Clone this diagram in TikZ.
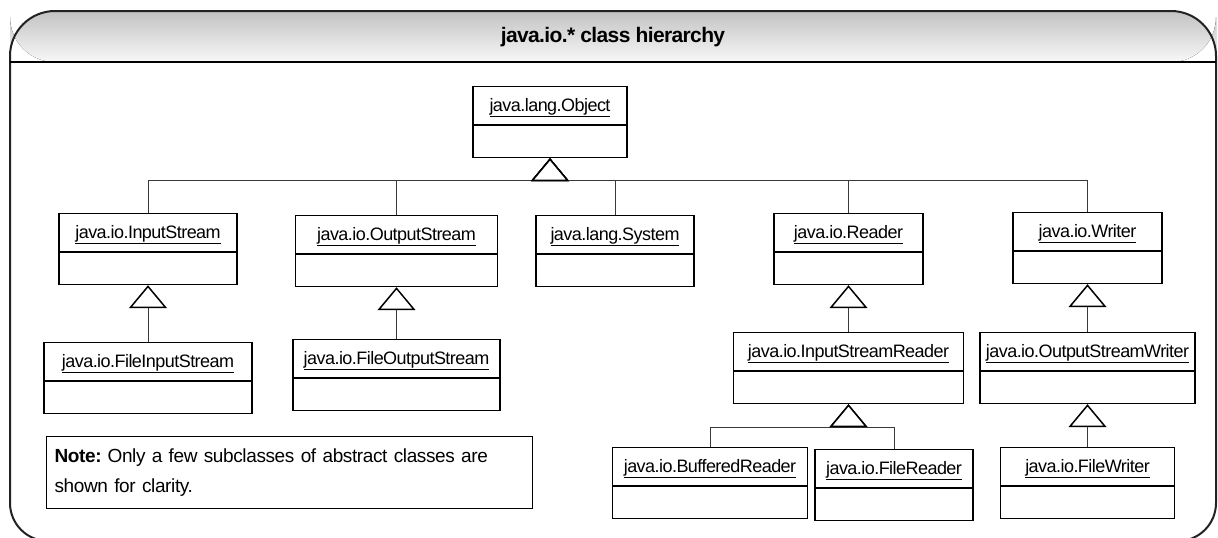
\documentclass[tikz,border=0pt]{standalone}
\usepackage{fontspec}
\setmainfont{Liberation Sans}
\newfontfamily\umlfont[LetterSpace=-3]{Liberation Sans}
\newfontfamily\notefont[LetterSpace=-2]{Liberation Sans}
\usetikzlibrary{
    shapes.multipart,
    arrows.meta,
    positioning
}
\definecolor{frameline}{HTML}{222222}
\definecolor{headtop}{HTML}{C2C2C2}
\definecolor{headbottom}{HTML}{F8F8F8}
\definecolor{linkline}{HTML}{3A3A3A}
\newcommand{\umlname}[1]{\rule[-9pt]{0pt}{29pt}\underline{#1}}
\tikzset{
    % UML class box: name compartment over an empty body
    classbox/.style={
        rectangle split,
        rectangle split parts=2,
        rectangle split empty part height=23pt,
        draw=black,
        line width=1.4pt,
        fill=white,
        minimum width=#1,
        inner xsep=4pt,
        inner ysep=4pt,
        anchor=north,
        font=\umlfont\fontsize{18}{21}\selectfont
    },
    % Generalisation connector with hollow triangle
    inherit/.style={
        -{Triangle[length=23pt, width=38pt, fill=white, color=black, line width=1.5pt]},
        line width=0.9pt,
        color=linkline
    },
    % Outer frame
    frame/.style={
        draw=frameline,
        line width=2pt,
        line join=round
    },
    % Note box
    notebox/.style={
        rectangle,
        draw=black,
        line width=1.2pt,
        anchor=north west,
        text width=470pt,
        minimum height=72pt,
        inner xsep=8pt,
        align=left,
        font=\notefont\fontsize{19}{30}\selectfont
    },
    % Title text
    title text/.style={
        font=\umlfont\bfseries\fontsize{21}{24}\selectfont
    }
}

\begin{document}
\frenchspacing
\begin{tikzpicture}[x=1pt, y=-1pt]
        \useasboundingbox (0,0) rectangle (1218,538);

        % Frame and header band
        \fill[top color=headtop, bottom color=headbottom]
            (10,62) [rounded corners=45] |- (613,11) -| (1216,62) -- cycle;
        \draw[frame] (10,300) [rounded corners=45] |- (613,11) -| (1216,300)
            [rounded corners=38] |- (613,541) -| (10,300);
        \draw[line width=2.2pt] (10,62) -- (1216,62);
        \node[title text] (title) at (613,37) {java.io.* class hierarchy};

        % Root class
        \node[classbox=154pt] (object) at (550,86) {\umlname{java.lang.Object}};

        % First level
        \node[classbox=178pt] (instream) at (148,213) {\umlname{java.io.InputStream}};
        \node[classbox=202pt] (outstream) at (396.5,215) {\umlname{java.io.OutputStream}};
        \node[classbox=158pt] (system) at (615,215) {\umlname{java.lang.System}};
        \node[classbox=149pt] (reader) at (848.5,213) {\umlname{java.io.Reader}};
        \node[classbox=149pt] (writer) at (1087.5,212) {\umlname{java.io.Writer}};

        % Second level
        \node[classbox=208pt] (fileinstream) at (148,342) {\umlname{java.io.FileInputStream}};
        \node[classbox=207pt] (fileoutstream) at (396.5,339) {\umlname{java.io.FileOutputStream}};
        \node[classbox=230pt] (isreader) at (848.5,332) {\umlname{java.io.InputStreamReader}};
        \node[classbox=215pt] (oswriter) at (1087.5,332) {\umlname{java.io.OutputStreamWriter}};

        % Third level
        \node[classbox=195pt] (bufreader) at (710,447) {\umlname{java.io.BufferedReader}};
        \node[classbox=158pt] (filereader) at (894,449) {\umlname{java.io.FileReader}};
        \node[classbox=174pt] (filewriter) at (1087.5,447) {\umlname{java.io.FileWriter}};

        % Note
        \node[notebox] (note) at (46,436) {\textbf{Note:} Only a few subclasses of abstract classes are\\shown for clarity.};

        % Inheritance connectors
        \coordinate (objbus) at (550,180);
        \coordinate (isrbus) at (848.5,427);
        \foreach \c in {instream,outstream,system,reader,writer} {
            \draw[inherit] (\c.north) |- (objbus) -- (object.south);
        }
        \foreach \c in {bufreader,filereader} {
            \draw[inherit] (\c.north) |- (isrbus) -- (isreader.south);
        }
        \draw[inherit] (fileinstream.north) -- (instream.south);
        \draw[inherit] (fileoutstream.north) -- (outstream.south);
        \draw[inherit] (isreader.north) -- (reader.south);
        \draw[inherit] (oswriter.north) -- (writer.south);
        \draw[inherit] (filewriter.north) -- (oswriter.south);

    \end{tikzpicture}
\end{document}
